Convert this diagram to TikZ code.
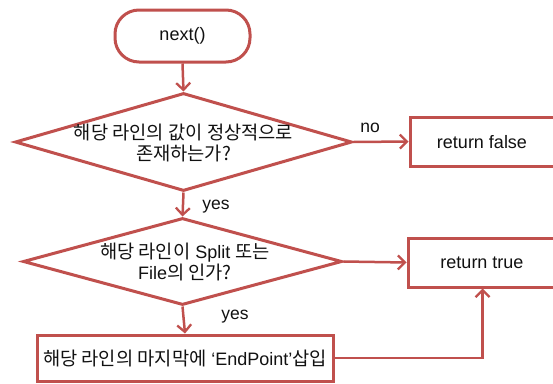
\documentclass[tikz,border=0pt]{standalone}
\usepackage{fontspec}
\setmainfont{Liberation Sans}
\newfontfamily\kr[Scale=1.04]{Noto Sans CJK KR}
\usetikzlibrary{shapes.geometric,arrows.meta}
\definecolor{fred}{HTML}{C0504D}
\definecolor{ftext}{HTML}{111111}
\tikzset{
  shapeline/.style={draw=fred, line width=3pt, fill=white},
  procbox/.style={shapeline, rectangle, inner sep=0pt},
  decision/.style={shapeline, diamond, inner sep=0pt},
  ftxt/.style={text=ftext, font=\fontsize{18}{21}\selectfont, align=center, inner sep=0pt},
  conn/.style={draw=fred, line width=2.5pt, -{Straight Barb[length=7pt,width=14pt,line width=2.3pt]}},
  lbl/.style={text=ftext, font=\fontsize{17.5}{20}\selectfont, inner sep=0pt}
}
\begin{document}
\begin{tikzpicture}[x=1pt,y=-1pt]
\useasboundingbox (0,0) rectangle (553,383);
% start
\node[shapeline, rectangle, rounded corners=24pt, minimum width=135pt, minimum height=52pt] (start) at (182.5,36) {};
\node[ftxt] (startt) at (start.center) {next()};
% decision 1
\node[decision, minimum width=337pt, minimum height=98pt] (d1) at (183.5,142) {};
\node[ftxt] (d1t) at (183.5,143) {\kr 해당 라인의 값이 정상적으로\\\kr 존재하는가?};
% return false
\node[procbox, minimum width=147pt, minimum height=49pt] (rf) at (483.5,141.5) {};
\node[ftxt] (rft) at (482,142) {return false};
% decision 2
\node[decision, minimum width=319pt, minimum height=87pt] (d2) at (182.5,261.5) {};
\node[ftxt] (d2t) at (185,262) {{\kr 해당 라인이} Split {\kr 또는}\\File{\kr 의 인가?}};
% return true
\node[procbox, minimum width=149pt, minimum height=49pt] (rt) at (482.5,262.5) {};
\node[ftxt] (rtt) at (482,263) {return true};
% insert box
\node[procbox, minimum width=296pt, minimum height=46pt] (ins) at (185,358) {};
\node[ftxt] (inst) at (185,358) {{\kr 해당 라인의 마지막에} ‘EndPoint’{\kr 삽입}};
% connectors
\draw[conn] (start.south) -- (d1.north);
\draw[conn] (d1.east) -- (rf.west);
\draw[conn] (d1.south) -- (d2.north);
\draw[conn] (d2.east) -- (rt.west);
\draw[conn] (d2.south) -- (ins.north);
\draw[conn] (ins.east) -| (rt.south);
% labels
\node[lbl] (no) at (370,128) {no};
\node[lbl] (yes1) at (216,207) {yes};
\node[lbl] (yes2) at (235,317) {yes};
\end{tikzpicture}
\end{document}
